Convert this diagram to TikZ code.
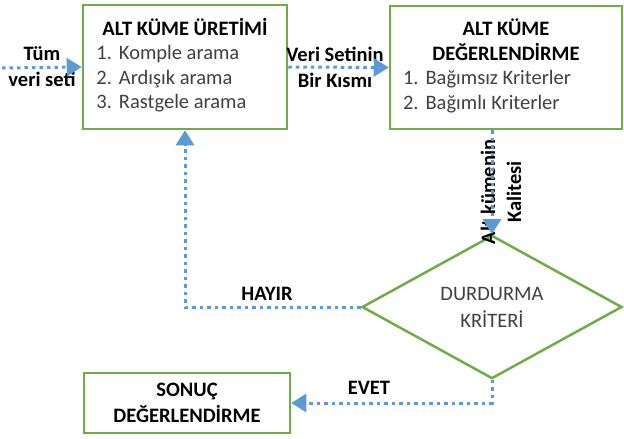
\documentclass[tikz,border=0pt]{standalone}
\usepackage{fontspec}
\setmainfont{Carlito}
\usetikzlibrary{shapes.geometric,arrows.meta,positioning}
\definecolor{boxgreen}{RGB}{112,173,71}
\definecolor{flowblue}{RGB}{91,155,213}
\definecolor{textgrey}{RGB}{64,64,64}

\begin{document}
\begin{tikzpicture}[x=1pt, y=-1pt,
    font=\fontsize{20.5}{24.5}\selectfont,
    box/.style={draw=boxgreen, line width=2.5pt, rectangle, inner sep=0pt, text centered},
    decision/.style={draw=boxgreen, line width=2.5pt, diamond, inner sep=0pt, minimum width=260pt, minimum height=110pt, align=center, text=textgrey, font=\fontsize{20.5}{27}\selectfont},
    flow/.style={draw=flowblue, line width=3pt, dash pattern=on 3.5pt off 4pt, -{Triangle[length=15pt, width=18pt, fill=flowblue]}},
    flowlabel/.style={font=\fontsize{20.5}{26}\selectfont\bfseries, align=center, inner sep=0pt}]

    \useasboundingbox (0,0) rectangle (624,439);

    % Nodes
    \node (gen) [box, minimum width=204pt, minimum height=124pt] at (185,67) {\begin{tabular}{@{}l@{}}
        \multicolumn{1}{c}{\textbf{ALT KÜME ÜRETİMİ}}\\
        \color{textgrey}1.\hspace{7pt}Komple arama\\
        \color{textgrey}2.\hspace{7pt}Ardışık arama\\
        \color{textgrey}3.\hspace{7pt}Rastgele arama
    \end{tabular}};
    \node (eval) [box, minimum width=232pt, minimum height=123pt] at (506,67.5) {\begin{tabular}{@{}l@{}}
        \makebox[206pt]{\textbf{ALT KÜME}}\\
        \makebox[206pt]{\textbf{DEĞERLENDİRME}}\\
        \color{textgrey}1.\hspace{7pt}Bağımsız Kriterler\\
        \color{textgrey}2.\hspace{7pt}Bağımlı Kriterler
    \end{tabular}};
    \node (dec) [decision] at (492,307) {DURDURMA\\KRİTERİ};
    \node (res) [box, minimum width=206pt, minimum height=60pt, align=center, font=\fontsize{20.5}{25.5}\selectfont\bfseries] at (187,403) {SONUÇ\\DEĞERLENDİRME};

    % Labels
    \coordinate (in) at (2,68);
    \node (tum) [flowlabel] at (42,67) {Tüm\\veri seti};
    \node (kisim) [flowlabel] at (335,67) {Veri Setinin\\Bir Kısmı};
    \node (kalite) [flowlabel, rotate=90] at (501,192) {Alt kümenin\\Kalitesi};
    \node (hayir) [flowlabel] at (267,294) {HAYIR};
    \node (evet) [flowlabel] at (369,388) {EVET};

    % Arrows
    \draw [flow] (in) -- (gen.west);
    \draw [flow] (gen.east) -- (eval.west);
    \draw [flow] (dec.north |- eval.south) -- (dec.north);
    \draw [flow] (dec.west) -| (gen.south);
    \draw [flow] (dec.south) |- (res.east);

\end{tikzpicture}
\end{document}
